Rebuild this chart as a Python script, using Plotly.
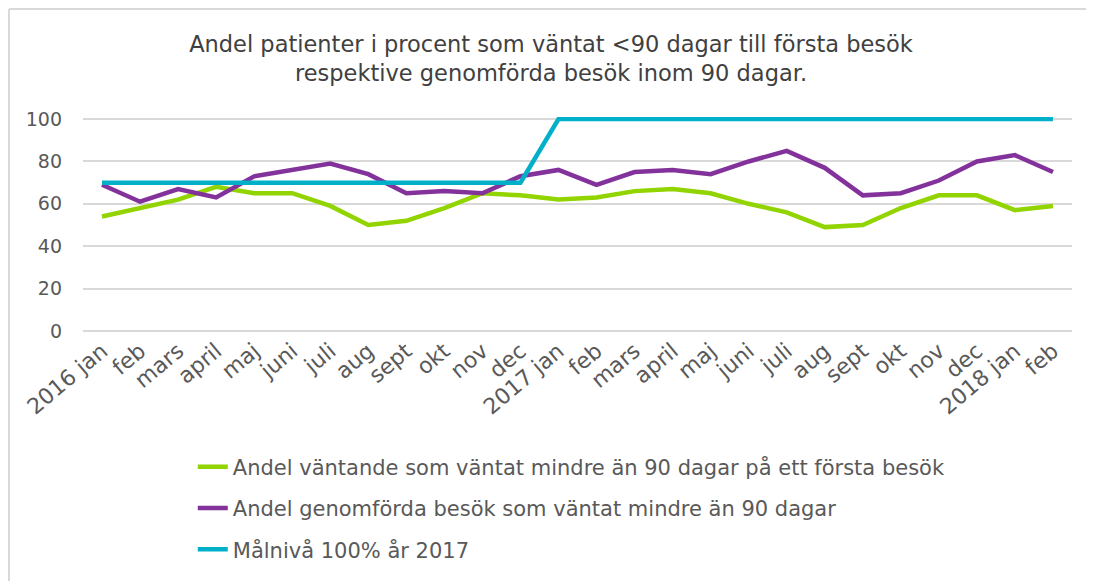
import plotly.graph_objects as go

months = ["2016 jan", "feb", "mars", "april", "maj", "juni", "juli", "aug", "sept", "okt", "nov", "dec",
          "2017 jan", "feb", "mars", "april", "maj", "juni", "juli", "aug", "sept", "okt", "nov", "dec",
          "2018 jan", "feb"]
x = list(range(len(months)))

vantande = [54, 58, 62, 68, 65, 65, 59, 50, 52, 58, 65, 64,
            62, 63, 66, 67, 65, 60, 56, 49, 50, 58, 64, 64, 57, 59]
genomforda = [69, 61, 67, 63, 73, 76, 79, 74, 65, 66, 65, 73,
              76, 69, 75, 76, 74, 80, 85, 77, 64, 65, 71, 80, 83, 75]
malniva = [70] * 12 + [100] * 14

C_GREEN = "#92d400"; C_PURPLE = "#84329b"; C_BLUE = "#00afc8"
TXT = "#595959"; GRID = "#d9d9d9"
FONT = "DejaVu Sans, Liberation Sans, Arial"

fig = go.Figure()
series = [
    ("Andel väntande som väntat mindre än 90 dagar på ett första besök", vantande, C_GREEN),
    ("Andel genomförda besök som väntat mindre än 90 dagar", genomforda, C_PURPLE),
    ("Målnivå 100% år 2017", malniva, C_BLUE),
]
for i, (name, vals, col) in enumerate(series):
    fig.add_trace(go.Scatter(x=x, y=vals, name=name, mode="lines", legendgroup=f"g{i}",
                             line=dict(color=col, width=4.5)))

# outer frame of the chart (left and top edges only are visible)
fig.add_shape(type="line", xref="paper", yref="paper", x0=-0.0748, x1=-0.0748, y0=-2, y1=1.5,
              line=dict(color=GRID, width=2), layer="below")
fig.add_shape(type="line", xref="paper", yref="paper", x0=-0.0748, x1=1.05, y0=1.5, y1=1.5,
              line=dict(color=GRID, width=2), layer="below")

# page body adds 8px, so the figure is 8px smaller than the window
fig.update_layout(
    width=1086, height=573, template="plotly_white",
    paper_bgcolor="white", plot_bgcolor="white",
    font=dict(family=FONT, color=TXT, size=19),
    title=dict(text="Andel patienter i procent som väntat <90 dagar till första besök<br>respektive genomförda besök inom 90 dagar.",
               x=0.5, xanchor="center", y=0.923, yanchor="top", font=dict(size=22.5, color="#404040")),
    margin=dict(l=75, r=22, t=109, b=248),
    showlegend=True,
    legend=dict(orientation="v", x=0.111, xanchor="left", y=-0.526, yanchor="top",
                font=dict(size=21, color=TXT), tracegroupgap=11, bgcolor="rgba(0,0,0,0)"),
)
fig.update_xaxes(tickvals=x, ticktext=months, tickangle=-40, range=[-0.5, len(months) - 0.5],
                 showgrid=False, zeroline=False, showline=False, ticks="", automargin=False,
                 tickfont=dict(size=22, color=TXT))
fig.update_yaxes(range=[-1, 101], tickvals=[0, 20, 40, 60, 80, 100], showgrid=True, gridcolor=GRID,
                 gridwidth=1.5, zeroline=False, showline=False, ticks="", ticklabelstandoff=20,
                 automargin=False, tickfont=dict(size=19, color=TXT))

fig.write_html("out.html")
